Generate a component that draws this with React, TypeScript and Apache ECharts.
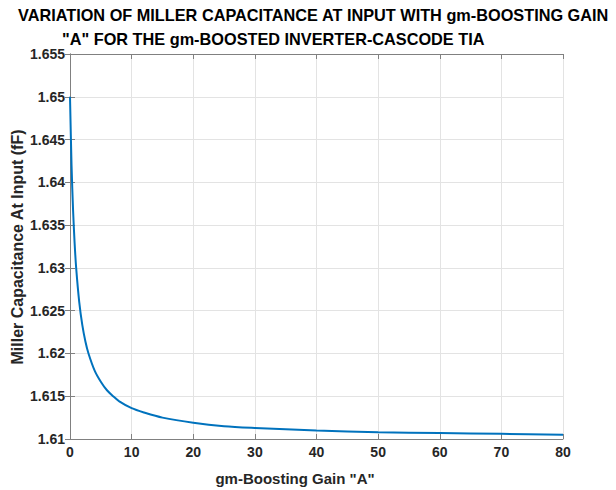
import React, { useEffect, useRef } from "react";
import * as echarts from "echarts";

const titleLines = [
  "VARIATION OF MILLER CAPACITANCE AT INPUT WITH gm-BOOSTING GAIN",
  "\"A\" FOR THE gm-BOOSTED INVERTER-CASCODE TIA",
];
const xLabel = "gm-Boosting Gain \"A\"";
const yLabel = "Miller Capacitance At Input (fF)";

const gainA = [0, 0.25, 0.5, 0.75, 1, 1.5, 2, 2.5, 3, 4, 5, 6, 7, 8, 10, 12, 15, 20, 25, 30, 40, 50, 60, 70, 80];
const millerCap = [
  1.65, 1.642, 1.6367, 1.6329, 1.63, 1.626, 1.6233, 1.6214, 1.62, 1.618, 1.6167, 1.6157, 1.615, 1.6144,
  1.6136, 1.6131, 1.6125, 1.6119, 1.6115, 1.6113, 1.611, 1.6108, 1.6107, 1.6106, 1.6105,
];

const FONT = "'Liberation Sans', Arial, sans-serif";
const AXIS_COLOR = "#808080";
const TEXT_COLOR = "#262626";

export default function App() {
  const ref = useRef<HTMLDivElement>(null);
  useEffect(() => {
    if (!ref.current) return;
    const chart = echarts.init(ref.current, undefined, { renderer: "svg" });
    const data = gainA.map((a, i) => [a, millerCap[i]]);
    const hiddenAxisCommon = {
      axisLine: { show: true, lineStyle: { color: AXIS_COLOR, width: 1 } },
      axisTick: { show: true, inside: true, length: 5, lineStyle: { color: AXIS_COLOR } },
      axisLabel: { show: false },
      splitLine: { show: false },
    };
    chart.setOption({
      animation: false,
      backgroundColor: "#ffffff",
      textStyle: { fontFamily: FONT },
      graphic: [
        {
          type: "text",
          left: 18,
          top: 7,
          style: { text: titleLines[0], font: `bold 16.3px ${FONT}`, fill: "#000" },
        },
        {
          type: "text",
          left: 62,
          top: 31,
          style: { text: titleLines[1], font: `bold 16.3px ${FONT}`, fill: "#000" },
        },
        {
          type: "text",
          x: 295,
          y: 478,
          style: {
            text: xLabel,
            font: `bold 15px ${FONT}`,
            fill: TEXT_COLOR,
            align: "center",
            verticalAlign: "middle",
          },
        },
        {
          type: "text",
          x: 17,
          y: 247,
          rotation: Math.PI / 2,
          style: {
            text: yLabel,
            font: `bold 16px ${FONT}`,
            fill: TEXT_COLOR,
            align: "center",
            verticalAlign: "middle",
          },
        },
      ],
      grid: { left: 70, right: 53, top: 54, bottom: 51, containLabel: false, outerBoundsMode: "none" },
      xAxis: [
        {
          type: "value",
          min: 0,
          max: 80,
          interval: 10,
          axisLine: { show: true, onZero: false, lineStyle: { color: AXIS_COLOR, width: 1 } },
          axisTick: { show: true, inside: true, length: 5, lineStyle: { color: AXIS_COLOR } },
          axisLabel: { fontSize: 14, fontWeight: "bold", color: TEXT_COLOR, margin: 6, fontFamily: FONT },
          splitLine: { show: true, lineStyle: { color: "#e3e3e3", width: 1 } },
        },
        { type: "value", position: "top", min: 0, max: 80, interval: 10, ...hiddenAxisCommon },
      ],
      yAxis: [
        {
          type: "value",
          min: 1.61,
          max: 1.655,
          interval: 0.005,
          axisLine: { show: true, onZero: false, lineStyle: { color: AXIS_COLOR, width: 1 } },
          axisTick: { show: true, inside: true, length: 5, lineStyle: { color: AXIS_COLOR } },
          axisLabel: {
            fontSize: 14,
            fontWeight: "bold",
            color: TEXT_COLOR,
            margin: 5,
            fontFamily: FONT,
            formatter: (v: number) => String(parseFloat(v.toFixed(3))),
          },
          splitLine: { show: true, lineStyle: { color: "#e3e3e3", width: 1 } },
        },
        { type: "value", position: "right", min: 1.61, max: 1.655, interval: 0.005, ...hiddenAxisCommon },
      ],
      series: [
        {
          type: "line",
          data,
          smooth: 0.3,
          showSymbol: false,
          symbol: "none",
          lineStyle: { color: "#0072BD", width: 2 },
          xAxisIndex: 0,
          yAxisIndex: 0,
        },
      ],
    });
    return () => chart.dispose();
  }, []);
  return <div ref={ref} style={{ width: 616, height: 490, position: "absolute", left: 0, top: 0 }} />;
}
